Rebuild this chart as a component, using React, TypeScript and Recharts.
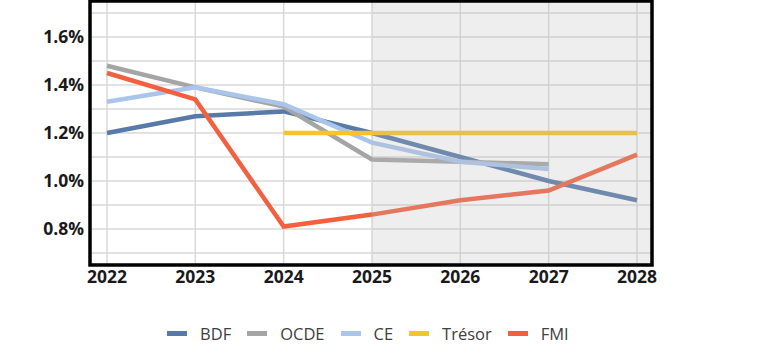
import React from 'react';
import {
  LineChart,
  Line,
  XAxis,
  YAxis,
  CartesianGrid,
  ReferenceArea,
  Legend,
} from 'recharts';

const years = [2022, 2023, 2024, 2025, 2026, 2027, 2028];
const bdf = [1.2, 1.27, 1.29, 1.2, 1.1, 1.0, 0.92];
const ocde = [1.48, 1.39, 1.31, 1.09, 1.08, 1.07, null];
const ce = [1.33, 1.39, 1.32, 1.16, 1.08, 1.05, null];
const tresor = [null, null, 1.2, 1.2, 1.2, 1.2, 1.2];
const fmi = [1.45, 1.34, 0.81, 0.86, 0.92, 0.96, 1.11];

const yTicks = [0.7, 0.8, 0.9, 1.0, 1.1, 1.2, 1.3, 1.4, 1.5, 1.6, 1.7];
const xDomain: [number, number] = [2021.8075, 2028.17];
const yDomain: [number, number] = [0.65, 1.75];
const forecastStart = 2025;

const series = [
  { key: 'BDF', values: bdf, color: '#577aa8' },
  { key: 'OCDE', values: ocde, color: '#a5a5a5' },
  { key: 'CE', values: ce, color: '#aac5ec' },
  { key: 'Trésor', values: tresor, color: '#f6c32c' },
  { key: 'FMI', values: fmi, color: '#f2603f' },
];

const data = years.map((y, i) => {
  const row: Record<string, number | null> = { year: y };
  series.forEach((s) => {
    row[s.key] = s.values[i];
  });
  return row;
});

const font = '"Open Sans", sans-serif';

const LegendContent = () => (
  <div
    style={{
      display: 'flex',
      justifyContent: 'flex-start',
      alignItems: 'center',
      fontFamily: font,
      fontSize: 16.5,
      color: '#404040',
      height: 24,
      paddingLeft: 167,
    }}
  >
    {series.map((s) => (
      <div key={s.key} style={{ display: 'flex', alignItems: 'center', marginRight: 16 }}>
        <div style={{ width: 20, height: 5, background: s.color, marginRight: 13 }} />
        <span>{s.key}</span>
      </div>
    ))}
  </div>
);

export default function App() {
  return (
    <div style={{ position: 'absolute', left: 0, top: 0, width: 768, height: 354 }}>
      <LineChart
        width={768}
        height={354}
        data={data}
        margin={{ top: 1, right: 116, bottom: 35, left: 0 }}
      >
        <CartesianGrid stroke="#d9d9d9" strokeWidth={1.5} />
        <XAxis
          dataKey="year"
          type="number"
          domain={xDomain}
          ticks={years}
          allowDataOverflow
          axisLine={false}
          tickLine={false}
          tickSize={4}
          tickMargin={2}
          height={30}
          tick={{ fontFamily: font, fontSize: 17.5, fontWeight: 700, fill: '#1a1a1a' }}
        />
        <YAxis
          type="number"
          domain={yDomain}
          ticks={yTicks}
          allowDataOverflow
          interval={0}
          axisLine={false}
          tickLine={false}
          tickSize={4}
          tickMargin={2}
          width={90}
          tickFormatter={(v: number) =>
            Math.round(v * 10) % 2 === 0 ? `${v.toFixed(1)}%` : ''
          }
          tick={{ fontFamily: font, fontSize: 17.5, fontWeight: 700, fill: '#1a1a1a' }}
        />
        {series.map((s) => (
          <Line
            key={s.key}
            dataKey={s.key}
            stroke={s.color}
            strokeWidth={4.5}
            dot={false}
            activeDot={false}
            connectNulls={false}
            isAnimationActive={false}
            legendType="plainline"
          />
        ))}
        <ReferenceArea
          x1={forecastStart}
          x2={xDomain[1]}
          y1={yDomain[0]}
          y2={yDomain[1]}
          fill="#bdbdbd"
          fillOpacity={0.25}
          stroke="none"
          ifOverflow="visible"
          {...({ zIndex: 450 } as any)}
        />
        <ReferenceArea
          x1={xDomain[0]}
          x2={xDomain[1]}
          y1={yDomain[0]}
          y2={yDomain[1]}
          fill="none"
          stroke="#000"
          strokeWidth={3.5}
          ifOverflow="visible"
          {...({ zIndex: 460 } as any)}
        />
        <Legend
          verticalAlign="bottom"
          content={<LegendContent />}
          wrapperStyle={{ top: 321, bottom: 'auto', left: 0, width: 768 }}
        />
      </LineChart>
    </div>
  );
}
